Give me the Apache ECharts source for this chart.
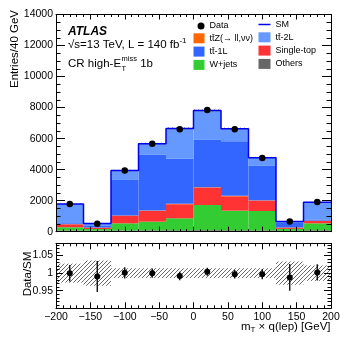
<!DOCTYPE html>
<html>
<head>
<meta charset="utf-8">
<script src="https://cdn.jsdelivr.net/npm/echarts@6.0.0/dist/echarts.min.js"></script>
<style>
  html, body { margin: 0; padding: 0; background: #fff; }
  #chart { width: 349px; height: 340px; }
</style>
</head>
<body>
<div id="chart"></div>
<script>
const FONT = '"Liberation Sans", Arial, Helvetica, sans-serif';

// binning in mT x q(lep)
const binEdges = [-200, -160, -120, -80, -40, 0, 40, 80, 120, 160, 200];
const binCenters = [-180, -140, -100, -60, -20, 20, 60, 100, 140, 180];

// background stack, bottom to top
const others    = [80, 70, 80, 85, 90, 95, 90, 85, 50, 90];
const wjets     = [205, 105, 460, 560, 775, 1625, 1265, 1250, 130, 450];
const singleTop = [192, 85, 490, 690, 905, 1120, 925, 665, 80, 150];
const ttZ       = [10, 5, 20, 25, 30, 30, 30, 20, 10, 20];
const tt1L      = [60, 105, 2285, 3590, 2900, 3045, 3520, 2220, 290, 50];
const tt2L      = [1243, 155, 611, 720, 1953, 1894, 800, 524, 98, 1146];

// data
const dataVals = [1790, 520, 3950, 5670, 6600, 7840, 6610, 4750, 650, 1910];
const dataErr  = [42, 23, 63, 75, 81, 89, 81, 69, 25, 44];
// relative SM uncertainty (hatched band)
const smRelUnc = [0.027, 0.036, 0.014, 0.014, 0.014, 0.014, 0.014, 0.014, 0.033, 0.022];

// tick labels
const xTickValues = [-200, -150, -100, -50, 0, 50, 100, 150, 200];
const xTickLabels = ['\u2212200', '\u2212150', '\u2212100', '\u221250', '0', '50', '100', '150', '200'];
const yTickValues = [0, 2000, 4000, 6000, 8000, 10000, 12000, 14000];
const yTickLabels = ['0', '2000', '4000', '6000', '8000', '10000', '12000', '14000'];
const ratioTickValues = [0.95, 1, 1.05];
const ratioTickLabels = ['0.95', '1', '1.05'];

const components = [
  {name: 'Others', values: others, color: '#666666'},
  {name: 'W+jets', values: wjets, color: '#33cc33'},
  {name: 'Single-top', values: singleTop, color: '#ff3333'},
  {name: 'tt\u0304Z(\u2192 ll,\u03bd\u03bd)', values: ttZ, color: '#ff6600'},
  {name: 'tt\u0304-1L', values: tt1L, color: '#3366ff'},
  {name: 'tt\u0304-2L', values: tt2L, color: '#6699ff'}
];
const SM_COLOR = '#0000ee';

function lookup(values, labels) {
  return function (v) {
    for (let i = 0; i < values.length; i++) {
      if (Math.abs(v - values[i]) < 1e-6) return labels[i];
    }
    return '';
  };
}

function hatch(color, width) {
  const c = document.createElement('canvas');
  c.width = 4; c.height = 4;
  const g = c.getContext('2d');
  g.strokeStyle = color;
  g.lineWidth = width;
  g.beginPath();
  g.moveTo(-1, 5); g.lineTo(5, -1);
  g.moveTo(-1, 1); g.lineTo(1, -1);
  g.moveTo(3, 5); g.lineTo(5, 3);
  g.stroke();
  return {image: c, repeat: 'repeat'};
}

const measureCtx = document.createElement('canvas').getContext('2d');
function textW(str, font) {
  measureCtx.font = font;
  return measureCtx.measureText(str).width;
}
function fnt(size, style) {
  return (style ? style + ' ' : '') + size + 'px ' + FONT;
}
function txt(x, y, text, font, extra) {
  return Object.assign({
    type: 'text', x: x, y: y, z: 20,
    style: {text: text, font: font, fill: '#000', align: 'left', verticalAlign: 'middle'}
  }, extra || {});
}

// cumulative stack
const sm = binCenters.map(() => 0);
const stackSeries = components.map(comp => {
  const rows = comp.values.map((v, i) => {
    const base = sm[i];
    sm[i] += v;
    return [binEdges[i], binEdges[i + 1], base, sm[i]];
  });
  return {
    name: comp.name,
    type: 'custom',
    xAxisIndex: 0, yAxisIndex: 0,
    itemStyle: {color: comp.color},
    encode: {x: [0, 1], y: [2, 3]},
    z: 2,
    silent: true,
    renderItem: function (params, api) {
      const p0 = api.coord([api.value(0), api.value(3)]);
      const p1 = api.coord([api.value(1), api.value(2)]);
      return {
        type: 'rect',
        shape: {x: p0[0], y: p0[1], width: p1[0] - p0[0], height: p1[1] - p0[1]},
        style: {fill: comp.color}
      };
    },
    data: rows
  };
});

function rectSeries(xi, yi, rows, fill, z) {
  return {
    type: 'custom', xAxisIndex: xi, yAxisIndex: yi, z: z, silent: true,
    encode: {x: [0, 1], y: [2, 3]},
    renderItem: function (params, api) {
      const p0 = api.coord([api.value(0), api.value(3)]);
      const p1 = api.coord([api.value(1), api.value(2)]);
      return {
        type: 'rect',
        shape: {x: p0[0], y: p0[1], width: p1[0] - p0[0], height: p1[1] - p0[1]},
        style: {fill: fill, stroke: null}
      };
    },
    data: rows
  };
}

function errSeries(xi, yi, rows) {
  return {
    type: 'custom', xAxisIndex: xi, yAxisIndex: yi, z: 5, silent: true,
    encode: {x: 0, y: [1, 2]},
    renderItem: function (params, api) {
      const a = api.coord([api.value(0), api.value(1)]);
      const b = api.coord([api.value(0), api.value(2)]);
      return {
        type: 'line',
        shape: {x1: a[0], y1: a[1], x2: b[0], y2: b[1]},
        style: {stroke: '#000', lineWidth: 1.3}
      };
    },
    data: rows
  };
}

const mainBand = binCenters.map((c, i) => [binEdges[i], binEdges[i + 1], sm[i] * (1 - smRelUnc[i]), sm[i] * (1 + smRelUnc[i])]);
const ratioBand = binCenters.map((c, i) => [binEdges[i], binEdges[i + 1], 1 - smRelUnc[i], 1 + smRelUnc[i]]);
const smLine = binEdges.map((e, i) => [e, sm[Math.min(i, sm.length - 1)]]);
const dataPts = binCenters.map((c, i) => [c, dataVals[i]]);
const dataBars = binCenters.map((c, i) => [c, dataVals[i] - dataErr[i], dataVals[i] + dataErr[i]]);
const ratioPts = binCenters.map((c, i) => [c, dataVals[i] / sm[i]]);
const ratioBars = binCenters.map((c, i) => [c, (dataVals[i] - dataErr[i]) / sm[i], (dataVals[i] + dataErr[i]) / sm[i]]);

function axisBase(majorLen, minorLen, split) {
  return {
    z: 10,
    axisLine: {onZero: false, lineStyle: {color: '#000', width: 1}},
    axisTick: {inside: true, length: majorLen, lineStyle: {color: '#000', width: 1}},
    minorTick: {show: true, splitNumber: split, length: minorLen, lineStyle: {color: '#000', width: 1}},
    splitLine: {show: false}
  };
}
const labelStyle = {color: '#000', fontSize: 10.5, fontFamily: FONT};

function xAx(grid, pos, showLabel, major, minor) {
  return Object.assign(axisBase(major, minor, 5), {
    type: 'value', gridIndex: grid, position: pos, min: -200, max: 200, interval: 50,
    axisLabel: Object.assign({show: showLabel, margin: 3, formatter: lookup(xTickValues, xTickLabels)}, labelStyle)
  });
}
function yAx(grid, pos, showLabel, min, max, interval, split, major, minor, fmt) {
  return Object.assign(axisBase(major, minor, split), {
    type: 'value', gridIndex: grid, position: pos, min: min, max: max, interval: interval,
    axisLabel: Object.assign({show: showLabel, margin: 3, formatter: fmt}, labelStyle)
  });
}

// text block
const g = [];
g.push(txt(68, 32, 'ATLAS', fnt(12, 'italic bold')));
const lumi = '\u221as=13 TeV, L = 140 fb';
g.push(txt(68, 45, lumi, fnt(11.5)));
g.push(txt(68 + textW(lumi, fnt(11.5)), 41, '-1', fnt(8)));
const cr1 = 'CR high-E';
const crW = textW(cr1, fnt(11.5));
g.push(txt(68, 64, cr1, fnt(11.5)));
g.push(txt(68 + crW + 0.5, 59, 'miss', fnt(7.5)));
g.push(txt(68 + crW + 0.5, 68.5, 'T', fnt(7.5)));
g.push(txt(68 + crW + 0.5 + textW('miss', fnt(7.5)), 64, ' 1b', fnt(11.5)));

// axis titles
const xt1 = 'm', xt2 = 'T', xt3 = ' \u00d7 q(lep) [GeV]';
const w1 = textW(xt1, fnt(11.5)), w2 = textW(xt2, fnt(8)), w3 = textW(xt3, fnt(11.5));
const xStart = 330.5 - (w1 + w2 + w3);
g.push(txt(xStart, 326.5, xt1, fnt(11.5)));
g.push(txt(xStart + w1, 330, xt2, fnt(8)));
g.push(txt(xStart + w1 + w2, 326.5, xt3, fnt(11.5)));
g.push({
  type: 'text', x: 15, y: 10, rotation: Math.PI / 2, z: 20,
  style: {text: 'Entries/40 GeV', font: fnt(11.5), fill: '#000', align: 'right', verticalAlign: 'middle'}
});
g.push({
  type: 'text', x: 28, y: 274, rotation: Math.PI / 2, z: 20,
  style: {text: 'Data/SM', font: fnt(11.5), fill: '#000', align: 'center', verticalAlign: 'middle'}
});

const legendText = {color: '#000', fontSize: 9, fontFamily: FONT};
const names = components.map(c => c.name);

const option = {
  animation: false,
  backgroundColor: '#fff',
  grid: [
    {left: 56, right: 18, top: 14.5, height: 217.2},
    {left: 56, right: 18, top: 243.3, height: 65}
  ],
  xAxis: [
    xAx(0, 'bottom', false, 5, 2.5),
    xAx(0, 'top', false, 5, 2.5),
    xAx(1, 'bottom', true, 6, 3),
    xAx(1, 'top', false, 6, 3)
  ],
  yAxis: [
    yAx(0, 'left', true, 0, 14000, 2000, 4, 9, 4.5, lookup(yTickValues, yTickLabels)),
    yAx(0, 'right', false, 0, 14000, 2000, 4, 9, 4.5),
    yAx(1, 'left', true, 0.9, 1.085, 0.05, 5, 7, 3.5, lookup(ratioTickValues, ratioTickLabels)),
    yAx(1, 'right', false, 0.9, 1.085, 0.05, 5, 7, 3.5)
  ],
  legend: [
    {data: ['Data'], left: 197.5, top: 21.5, padding: 0, itemWidth: 7, itemHeight: 7,
      selectedMode: false, textStyle: legendText},
    {data: [names[3], names[4], names[1]].map(n => ({name: n, icon: 'rect'})), orient: 'vertical',
      left: 193.5, top: 33.3, padding: 0, itemWidth: 11, itemHeight: 10, itemGap: 3.3,
      selectedMode: false, textStyle: legendText},
    {data: [{name: 'SM', icon: 'path://M0,0H12V1.5H0Z', itemStyle: {color: SM_COLOR}}]
        .concat([names[5], names[2], names[0]].map(n => ({name: n, icon: 'rect'}))),
      orient: 'vertical', left: 258.5, top: 20, padding: 0, itemWidth: 12, itemHeight: 10, itemGap: 3.3,
      symbolKeepAspect: true, selectedMode: false, textStyle: legendText}
  ],
  graphic: {elements: g},
  series: stackSeries.concat([
    rectSeries(0, 0, mainBand, hatch('#888888', 0.7), 3),
    {
      name: 'SM', type: 'line', xAxisIndex: 0, yAxisIndex: 0, step: 'end', symbol: 'none', z: 4,
      silent: true, lineStyle: {color: SM_COLOR, width: 1.5}, itemStyle: {color: SM_COLOR},
      data: smLine
    },
    errSeries(0, 0, dataBars),
    {
      name: 'Data', type: 'scatter', xAxisIndex: 0, yAxisIndex: 0, symbol: 'circle', symbolSize: 6.5, z: 6,
      silent: true, itemStyle: {color: '#000', opacity: 1}, data: dataPts
    },
    rectSeries(2, 2, ratioBand, hatch('#444444', 0.8), 3),
    errSeries(2, 2, ratioBars),
    {
      type: 'scatter', xAxisIndex: 2, yAxisIndex: 2, symbol: 'circle', symbolSize: 6, z: 6,
      silent: true, itemStyle: {color: '#000', opacity: 1}, data: ratioPts
    }
  ])
};

const chart = echarts.init(document.getElementById('chart'), null, {renderer: 'canvas'});
chart.setOption(option);
</script>
</body>
</html>
